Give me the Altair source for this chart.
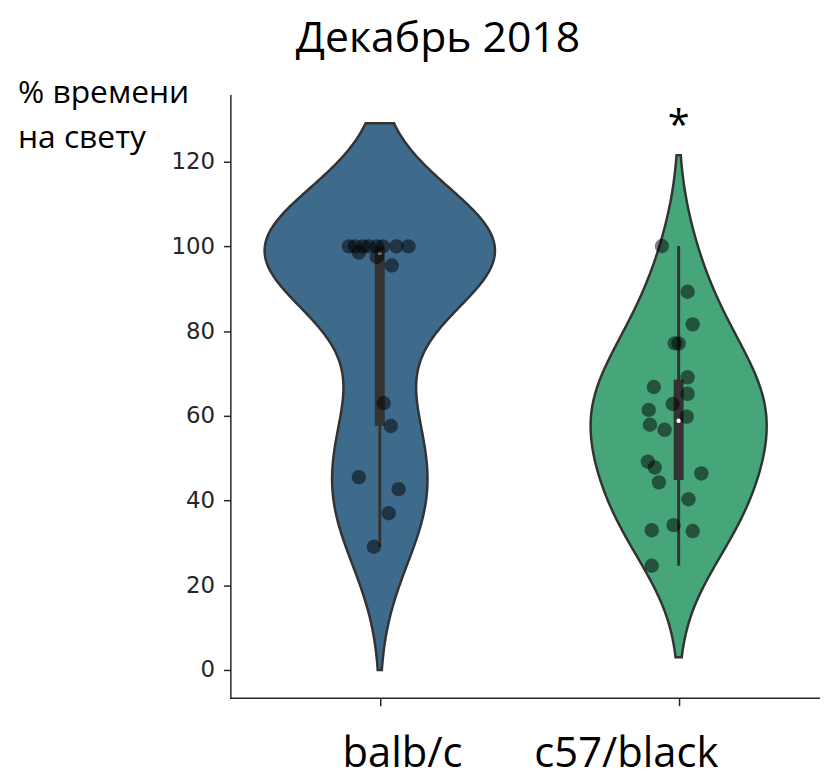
import altair as alt
import pandas as pd

# ---- data ----
groups = ["balb/c", "c57/black"]

balb_values = [100, 100, 100, 100, 100, 100, 100, 100, 98.5, 97.5, 95.5,
               63.0, 57.6, 45.5, 42.7, 37.0, 29.1]
balb_jitter = [-0.103, -0.083, -0.056, -0.037, -0.01, 0.01, 0.056, 0.096, -0.07, -0.01, 0.04,
               0.013, 0.037, -0.07, 0.063, 0.03, -0.02]

c57_values = [100.1, 89.3, 81.6, 77.1, 77.1, 69.1, 66.8, 65.2, 62.8, 61.4, 59.8,
              57.9, 56.7, 49.2, 47.8, 46.4, 44.3, 40.3, 34.2, 33.0, 32.8, 24.6]
c57_jitter = [-0.056, 0.03, 0.047, -0.013, 0.0, 0.03, -0.083, 0.03, -0.02, -0.1, 0.027,
              -0.096, -0.047, -0.103, -0.08, 0.076, -0.066, 0.033, -0.017, -0.09, 0.047, -0.09]

bandwidths = [14.55, 12.5]
extents = [[0.0, 129.1], [3.0, 121.5]]
width_scale = [21.7, 17.6]   # density -> half-width (category units)
colors = ["#3E6A8B", "#46A679"]
y_ticks = [0, 20, 40, 60, 80, 100, 120]
title_text = "Декабрь 2018"
y_title = ["% времени", "на свету"]
label_pos = [0.076, 0.825]
star_group = 1
star_value = 130

rows = []
for i, (vals, jit) in enumerate([(balb_values, balb_jitter), (c57_values, c57_jitter)]):
    for v, j in zip(vals, jit):
        rows.append({"group": groups[i], "idx": i, "value": v, "jit": j})
df = pd.DataFrame(rows)

W, H = 594, 607
xscale = alt.Scale(domain=[-0.5, 1.473], nice=False, zero=False)
yscale = alt.Scale(domain=[-6.56, 135.7], nice=False, zero=False)
xaxis = alt.Axis(values=[0, 1], labels=False, title=None, grid=False, ticks=True,
                 tickSize=8, tickColor="#262626", tickWidth=1.5,
                 domainColor="#262626", domainWidth=1.5)
yaxis = alt.Axis(values=y_ticks, title=None, grid=False, tickSize=7, tickColor="#262626",
                 tickWidth=1.5, domainColor="#262626", domainWidth=1.5,
                 labelFont="DejaVu Sans", labelFontSize=23, labelColor="#262626",
                 labelPadding=9)

base = alt.Chart(df)

violins = []
for i in range(2):
    bw = bandwidths[i]
    lo, hi = extents[i]
    s = width_scale[i]
    v = (base.transform_filter(alt.datum.idx == i)
         .transform_density("value", as_=["value", "density"], bandwidth=bw,
                            extent=[lo, hi], steps=300)
         .transform_calculate(xl=f"{i} - {s} * datum.density",
                              xr=f"{i} + {s} * datum.density")
         .mark_area(orient="horizontal", fill=colors[i], stroke="#333333",
                    strokeWidth=2.5, opacity=1)
         .encode(x=alt.X("xl:Q", scale=xscale, axis=xaxis),
                 x2="xr:Q",
                 y=alt.Y("value:Q", scale=yscale, axis=yaxis)))
    violins.append(v)

stats = base.transform_aggregate(q1="q1(value)", q3="q3(value)", med="median(value)",
                                 lo="min(value)", hi="max(value)", groupby=["idx"])

whisk = stats.mark_rule(color="#333333", strokeWidth=3).encode(
    x=alt.X("idx:Q", scale=xscale, axis=xaxis),
    y=alt.Y("lo:Q", scale=yscale, axis=yaxis), y2="hi:Q")
box = stats.mark_rule(color="#333333", strokeWidth=10).encode(
    x=alt.X("idx:Q", scale=xscale, axis=xaxis),
    y=alt.Y("q1:Q", scale=yscale, axis=yaxis), y2="q3:Q")
med = stats.mark_circle(color="white", size=20, opacity=1).encode(
    x=alt.X("idx:Q", scale=xscale, axis=xaxis),
    y=alt.Y("med:Q", scale=yscale, axis=yaxis))

points = base.transform_calculate(px="datum.idx + datum.jit").mark_circle(
    color="black", size=210, opacity=0.5).encode(
    x=alt.X("px:Q", scale=xscale, axis=xaxis),
    y=alt.Y("value:Q", scale=yscale, axis=yaxis))

lab_df = pd.DataFrame({"pos": label_pos, "label": groups})
xlabels = alt.Chart(lab_df).mark_text(font="Open Sans", fontSize=42, color="black",
                                      baseline="alphabetic", align="center").encode(
    x=alt.X("pos:Q", scale=xscale, axis=xaxis),
    y=alt.value(677),
    text="label:N")

star_df = pd.DataFrame({"idx": [star_group], "value": [star_value], "t": ["*"]})
star = alt.Chart(star_df).mark_text(font="Open Sans", fontSize=40, color="black",
                                    baseline="middle", align="center", dy=8).encode(
    x=alt.X("idx:Q", scale=xscale, axis=xaxis),
    y=alt.Y("value:Q", scale=yscale, axis=yaxis),
    text="t:N")

title_df = pd.DataFrame({"t": [title_text]})
title = alt.Chart(title_df).mark_text(font="Open Sans", fontSize=43, color="black",
                                      baseline="alphabetic", align="left").encode(
    x=alt.value(66), y=alt.value(-44), text="t:N")

ytitle_df = pd.DataFrame({"t": ["\n".join(y_title)]})
ytitle = alt.Chart(ytitle_df).mark_text(font="Open Sans", fontSize=32, color="black",
                                        baseline="alphabetic", align="left",
                                        lineBreak="\n", lineHeight=45).encode(
    x=alt.value(-214), y=alt.value(8), text="t:N")

chart = alt.layer(*violins, whisk, box, med, points, star, xlabels, title, ytitle).properties(
    width=W, height=H,
    autosize=alt.AutoSizeParams(type="none"),
    padding={"left": 224, "top": 85, "right": 0, "bottom": 80},
).configure_view(stroke=None).configure_axis(domainCap="square")

chart.save("out.html", embed_options={"renderer": "svg", "actions": False})
